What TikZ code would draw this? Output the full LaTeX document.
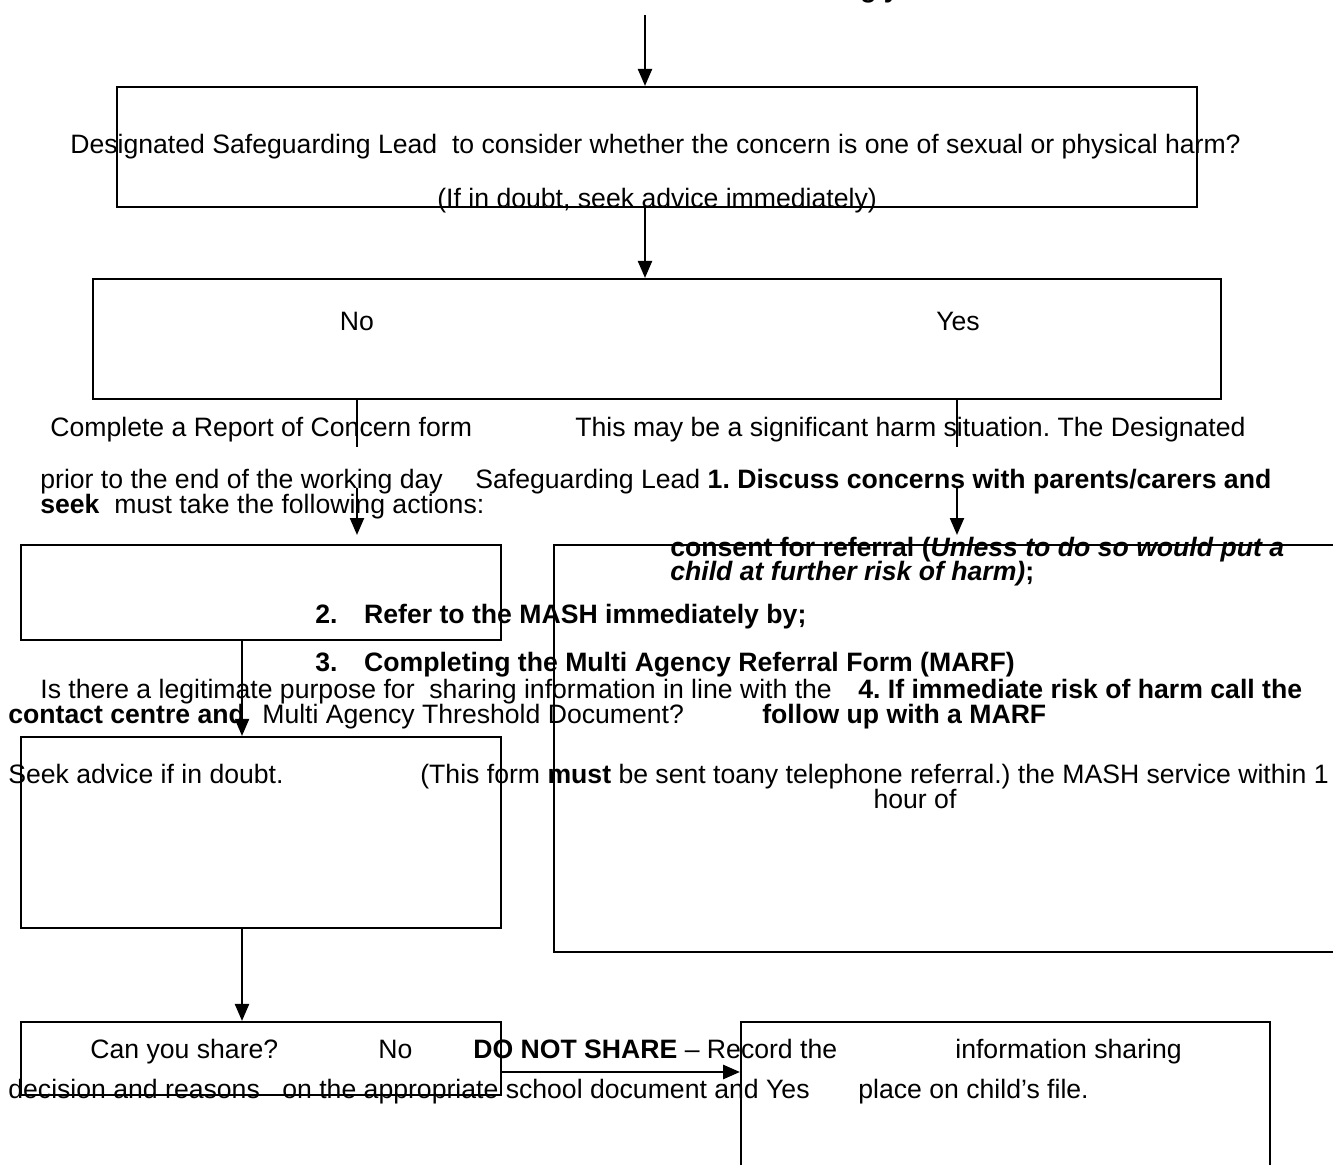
\documentclass[tikz,border=0pt]{standalone}
\usepackage{fontspec}
\setmainfont{Liberation Sans}
\usetikzlibrary{arrows.meta}
\frenchspacing

\begin{document}
\begin{tikzpicture}[x=0.02cm, y=-0.02cm,
	every node/.style={font=\fontsize{15.15}{17}\selectfont, inner sep=0pt, text height=0.72em, text depth=0.21em},
	box/.style={draw, line width=1.2pt, text height=, text depth=},
	lbl/.style={yshift=-0.08cm},
	txt/.style={anchor=west, lbl},
	arr/.style={line width=1.3pt, -{Triangle[length=0.34cm, width=0.28cm]}}]
	\useasboundingbox (0,0) rectangle (1333,1165);
	% boxes
	\node[box, minimum width=21.6cm, minimum height=2.4cm] (dsl) at (657,147) {};
	\node[box, minimum width=22.56cm, minimum height=2.4cm] (yesno) at (657,339) {};
	\node[box, minimum width=9.6cm, minimum height=1.9cm] (report) at (261,592.5) {};
	\node[box, minimum width=15.82cm, minimum height=8.14cm] (action) at (949.5,748.5) {};
	\node[box, minimum width=9.6cm, minimum height=3.82cm] (purpose) at (261,832.5) {};
	\node[box, minimum width=9.6cm, minimum height=1.46cm] (share) at (261,1058.5) {};
	\node[box, minimum width=10.58cm, minimum height=3.26cm] (record) at (1005.5,1103.5) {};
	% texts
	\node[anchor=base west] (head) at (860,-2) {\bfseries g y};
	\node[txt] (q1) at (70,145) {Designated Safeguarding Lead\ \ to consider whether the concern is one of sexual or physical harm?};
	\node[txt] (q2) at (437,199) {(If in doubt, seek advice immediately)};
	\node[lbl] (no) at (357,322) {No};
	\node[lbl] (yes) at (958,322) {Yes};
	\node[txt] (n1) at (50,428) {Complete a Report of Concern form};
	\node[txt] (y1) at (575,428) {This may be a significant harm situation. The Designated};
	\node[txt] (n2) at (40,480) {prior to the end of the working day};
	\node[txt] (y2) at (475,480) {Safeguarding Lead \textbf{1. Discuss concerns with parents/carers and}};
	\node[txt] (n3) at (40,505) {\textbf{seek}\ \ must take the following actions:};
	\node[txt] (y3) at (670,548) {\textbf{consent for referral (\textit{Unless to do so would put a}}};
	\node[txt] (y4) at (670,572) {\textbf{\textit{child at further risk of harm)};}};
	\node[txt] (y5) at (315,615) {\textbf{2.\quad Refer to the MASH immediately by;}};
	\node[txt] (y6) at (315,663) {\textbf{3.\quad Completing the Multi Agency Referral Form (MARF)}};
	\node[txt] (p1) at (40,690) {Is there a legitimate purpose for\ \ sharing information in line with the};
	\node[txt] (y7) at (858,690) {\textbf{4. If immediate risk of harm call the}};
	\node[txt] (y8) at (8,715) {\textbf{contact centre and}};
	\node[txt] (p2) at (262,715) {Multi Agency Threshold Document?};
	\node[txt] (y9) at (762,715) {\textbf{follow up with a MARF}};
	\node[txt] (p3) at (8,775) {Seek advice if in doubt.};
	\node[txt] (y10) at (420,775) {(This form \textbf{must} be sent toany telephone referral.) the MASH service within 1};
	\node[lbl] (y11) at (915,800) {hour of};
	\node[txt] (s1) at (90,1050) {Can you share?};
	\node[txt] (s2) at (378,1050) {No};
	\node[txt] (s3) at (473,1050) {\textbf{DO NOT SHARE} -- Record the};
	\node[txt] (s4) at (955,1050) {information sharing};
	\node[txt] (s5) at (8,1090) {decision and reasons};
	\node[txt] (s6) at (282,1090) {on the appropriate school document and Yes};
	\node[txt] (s7) at (858,1090) {place on child’s file.};
	% connectors
	\coordinate (start) at (645,15);
	\coordinate (nolane) at (357,0);
	\coordinate (yeslane) at (957,0);
	\coordinate (lane) at (242,0);
	\coordinate (nobreak) at (357,447);
	\coordinate (nogo) at (357,488);
	\coordinate (nostop) at (357,535);
	\coordinate (yesbreak) at (957,447);
	\coordinate (yesgo) at (957,488);
	\coordinate (yesstop) at (957,535);
	\draw[arr] (start) -- (start |- dsl.north);
	\draw[arr] (start |- dsl.south) -- (start |- yesno.north);
	\draw[line width=1.1pt] (yesno.south -| nolane) -- (nobreak);
	\draw[arr] (nogo) -- (nostop);
	\draw[line width=1.1pt] (yesno.south -| yeslane) -- (yesbreak);
	\draw[arr] (yesgo) -- (yesstop);
	\draw[arr] (report.south -| lane) -- (purpose.north -| lane);
	\draw[arr] (purpose.south -| lane) -- (share.north -| lane);
	\draw[arr, line width=1.6pt] ([yshift=-0.27cm]share.east) -- ([yshift=-0.27cm]share.east -| record.west);
\end{tikzpicture}
\end{document}
